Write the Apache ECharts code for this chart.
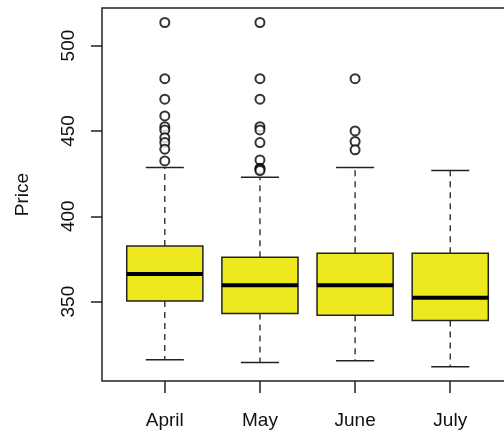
<!DOCTYPE html>
<html>
<head>
<meta charset="utf-8">
<script src="https://cdn.jsdelivr.net/npm/echarts@6/dist/echarts.min.js"></script>
<style>
  html, body { margin: 0; padding: 0; background: #fff; }
  #chart { width: 504px; height: 438px; }
</style>
</head>
<body>
<div id="chart"></div>
<script>
// months on the x axis
const months = ['April', 'May', 'June', 'July'];
// box stats per month: [lower whisker, Q1, median, Q3, upper whisker]
const lowWhisker = [316.0, 314.3, 315.3, 311.9];
const q1 = [350.4, 343.0, 342.0, 338.9];
const median = [366.2, 359.6, 359.6, 352.2];
const q3 = [382.6, 376.0, 378.4, 378.4];
const highWhisker = [428.5, 422.9, 428.5, 426.8];
// outliers per month
const outApril = [513.5, 480.6, 468.6, 458.8, 452.5, 450.6, 446.0, 443.2, 439.3, 432.4];
const outMay = [513.5, 480.6, 468.6, 452.5, 450.6, 443.2, 433.0, 428.2, 427.5, 426.8];
const outJune = [480.6, 450.0, 443.8, 438.9];
const outJuly = [];
const yTicks = [350, 400, 450, 500];

const outliers = [outApril, outMay, outJune, outJuly];

const boxData = months.map((m, i) => [i + 1, lowWhisker[i], q1[i], median[i], q3[i], highWhisker[i]]);
const outlierData = [];
outliers.forEach((list, i) => {
    list.forEach(v => outlierData.push([i + 1, v]));
});

const ink = '#222';
const boxFill = '#eee81e';

function renderBox(params, api) {
    const x = api.value(0);
    const pLow = api.coord([x, api.value(1)]);
    const pQ1 = api.coord([x, api.value(2)]);
    const pMed = api.coord([x, api.value(3)]);
    const pQ3 = api.coord([x, api.value(4)]);
    const pHigh = api.coord([x, api.value(5)]);
    const unit = api.size([1, 0])[0];
    const half = unit * 0.8 / 2;
    const cap = half / 2;
    const cx = pMed[0];
    const dash = { stroke: ink, lineWidth: 1.3, lineDash: [6, 5] };
    const solid = { stroke: ink, lineWidth: 1.5 };
    return {
        type: 'group',
        children: [
            { type: 'line', shape: { x1: cx, y1: pQ3[1], x2: cx, y2: pHigh[1] }, style: dash },
            { type: 'line', shape: { x1: cx, y1: pQ1[1], x2: cx, y2: pLow[1] }, style: dash },
            { type: 'line', shape: { x1: cx - cap, y1: pHigh[1], x2: cx + cap, y2: pHigh[1] }, style: solid },
            { type: 'line', shape: { x1: cx - cap, y1: pLow[1], x2: cx + cap, y2: pLow[1] }, style: solid },
            {
                type: 'rect',
                shape: { x: cx - half, y: pQ3[1], width: half * 2, height: pQ1[1] - pQ3[1] },
                style: { fill: boxFill, stroke: ink, lineWidth: 1.5 }
            },
            { type: 'line', shape: { x1: cx - half, y1: pMed[1], x2: cx + half, y2: pMed[1] }, style: { stroke: '#000', lineWidth: 4 } }
        ]
    };
}

const myChart = echarts.init(document.getElementById('chart'));
myChart.setOption({
    animation: false,
    // plot frame, its right side runs past the edge of the picture
    graphic: [{
        type: 'rect',
        shape: { x: 102, y: 8, width: 411, height: 373 },
        style: { fill: null, stroke: ink, lineWidth: 1.5 },
        z: 10
    }],
    grid: {
        left: 102,
        right: 0,
        top: 8,
        bottom: 57
    },
    xAxis: {
        type: 'value',
        min: 0.34,
        max: 4.565,
        splitLine: { show: false },
        axisLine: { show: false },
        axisTick: { show: true, length: 12, customValues: [1, 2, 3, 4], lineStyle: { color: ink, width: 1.5 } },
        axisLabel: {
            customValues: [1, 2, 3, 4],
            formatter: v => months[Math.round(v) - 1] || '',
            color: '#111',
            fontFamily: 'Liberation Sans',
            fontSize: 19,
            margin: 30
        }
    },
    yAxis: {
        type: 'value',
        min: 303.5,
        max: 522,
        name: 'Price',
        nameLocation: 'middle',
        nameRotate: 90,
        nameGap: 70,
        nameTextStyle: { color: '#111', fontFamily: 'Liberation Sans', fontSize: 19 },
        splitLine: { show: false },
        axisLine: { show: false },
        axisTick: { show: true, length: 11, customValues: yTicks, lineStyle: { color: ink, width: 1.5 } },
        axisLabel: {
            customValues: yTicks,
            rotate: 90,
            color: '#111',
            fontFamily: 'Liberation Sans',
            fontSize: 19,
            margin: 24
        }
    },
    series: [
        {
            type: 'custom',
            renderItem: renderBox,
            data: boxData,
            encode: { x: 0, y: [1, 2, 3, 4, 5] },
            z: 2
        },
        {
            type: 'scatter',
            data: outlierData,
            symbol: 'emptyCircle',
            symbolSize: 9,
            itemStyle: { color: '#000', borderColor: '#000', borderWidth: 1 },
            z: 3
        }
    ]
});
</script>
</body>
</html>
